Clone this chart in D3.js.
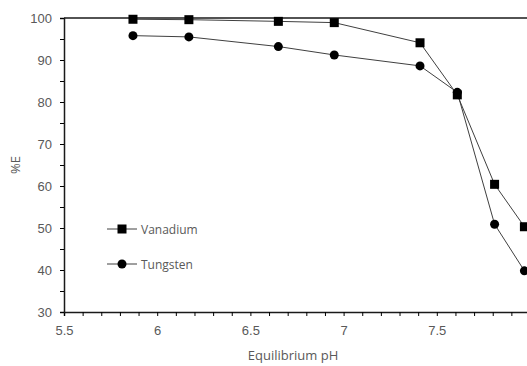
<!DOCTYPE html>
<html>
<head>
<meta charset="utf-8">
<script src="https://cdn.jsdelivr.net/npm/d3@7"></script>
<style>
  body { margin: 0; background: #fff; }
  svg { display: block; font-family: "Open Sans", "Liberation Sans", sans-serif; }
</style>
</head>
<body>
<svg id="chart" width="527" height="366"></svg>
<script>
// chart values
const phValues = [5.87, 6.17, 6.65, 6.95, 7.41, 7.61, 7.81, 7.97];
const vanadium = [99.7, 99.6, 99.2, 98.9, 94.1, 81.7, 60.4, 50.3];
const tungsten = [95.8, 95.5, 93.2, 91.2, 88.6, 82.3, 50.9, 39.8];
const xTicks = [5.5, 6, 6.5, 7, 7.5, 8];
const yTicks = [30, 40, 50, 60, 70, 80, 90, 100];
const seriesNames = ["Vanadium", "Tungsten"];

const margins = { top: 18, right: -3, bottom: 54, left: 64 };
const dims = { width: 527, height: 366 };
const plotW = dims.width - margins.left - margins.right;
const plotH = dims.height - margins.top - margins.bottom;

const svg = d3.select("#chart");
const g = svg.append("g").attr("transform", `translate(${margins.left},${margins.top})`);

const xScale = d3.scaleLinear().domain([5.5, 8]).range([0, plotW]);
const yScale = d3.scaleLinear().domain([30, 100]).range([plotH, 0]);

const labelColor = "#595959";
const lineColor = "#404040";

// top border at 100
g.append("line")
  .attr("x1", 0).attr("x2", plotW)
  .attr("y1", yScale(100)).attr("y2", yScale(100))
  .attr("stroke", "#1a1a1a").attr("stroke-width", 1.5);

// x axis: minor ticks every 0.1
const xMinor = d3.range(55, 81).map(d => d / 10);
g.append("g")
  .attr("transform", `translate(0,${plotH})`)
  .call(d3.axisBottom(xScale).tickValues(xMinor).tickSize(4).tickFormat(""))
  .call(a => a.select(".domain").attr("stroke", "#1a1a1a").attr("stroke-width", 1.5));
g.append("g")
  .attr("transform", `translate(0,${plotH})`)
  .call(d3.axisBottom(xScale).tickValues(xTicks).tickSize(0).tickPadding(14).tickFormat(d3.format("")))
  .call(a => a.select(".domain").remove())
  .call(a => a.selectAll("text").attr("fill", labelColor).style("font-size", "13px"));

// y axis: minor ticks every 5
const yMinor = d3.range(30, 101, 5);
g.append("g")
  .call(d3.axisLeft(yScale).tickValues(yMinor).tickSize(4).tickFormat(""))
  .call(a => a.select(".domain").attr("stroke", "#1a1a1a").attr("stroke-width", 1.5));
g.append("g")
  .call(d3.axisLeft(yScale).tickValues(yTicks).tickSize(0).tickPadding(12))
  .call(a => a.select(".domain").remove())
  .call(a => a.selectAll("text").attr("fill", labelColor).style("font-size", "13px"));

// axis titles
svg.append("text")
  .attr("x", margins.left + xScale(6.75) - 4).attr("y", 360)
  .attr("text-anchor", "middle").attr("fill", labelColor).style("font-size", "13px")
  .text("Equilibrium pH");
svg.append("text")
  .attr("transform", `translate(20,${margins.top + yScale(65)}) rotate(-90)`)
  .attr("text-anchor", "middle").attr("fill", labelColor).style("font-size", "13px")
  .text("%E");

const line = d3.line().x(d => xScale(d[0])).y(d => yScale(d[1]));
const vData = phValues.map((p, i) => [p, vanadium[i]]);
const wData = phValues.map((p, i) => [p, tungsten[i]]);

[vData, wData].forEach(data => {
  g.append("path").datum(data)
    .attr("d", line).attr("fill", "none")
    .attr("stroke", lineColor).attr("stroke-width", 1);
});

const sq = 9;
g.selectAll(".sq").data(vData).enter().append("rect")
  .attr("x", d => xScale(d[0]) - sq / 2).attr("y", d => yScale(d[1]) - sq / 2)
  .attr("width", sq).attr("height", sq).attr("fill", "#000");
g.selectAll(".ci").data(wData).enter().append("circle")
  .attr("cx", d => xScale(d[0])).attr("cy", d => yScale(d[1]))
  .attr("r", 4.5).attr("fill", "#000");

// legend
const legend = svg.append("g").attr("transform", "translate(107,229)");
seriesNames.forEach((name, i) => {
  const row = legend.append("g").attr("transform", `translate(0,${i * 35})`);
  row.append("line").attr("x1", 0).attr("x2", 30).attr("stroke", lineColor).attr("stroke-width", 1);
  if (i === 0) {
    row.append("rect").attr("x", 15 - sq / 2).attr("y", -sq / 2).attr("width", sq).attr("height", sq).attr("fill", "#000");
  } else {
    row.append("circle").attr("cx", 15).attr("r", 4.5).attr("fill", "#000");
  }
  row.append("text").attr("x", 34).attr("y", 4.5)
    .attr("fill", labelColor).style("font-size", "12px").text(name);
});
</script>
</body>
</html>
